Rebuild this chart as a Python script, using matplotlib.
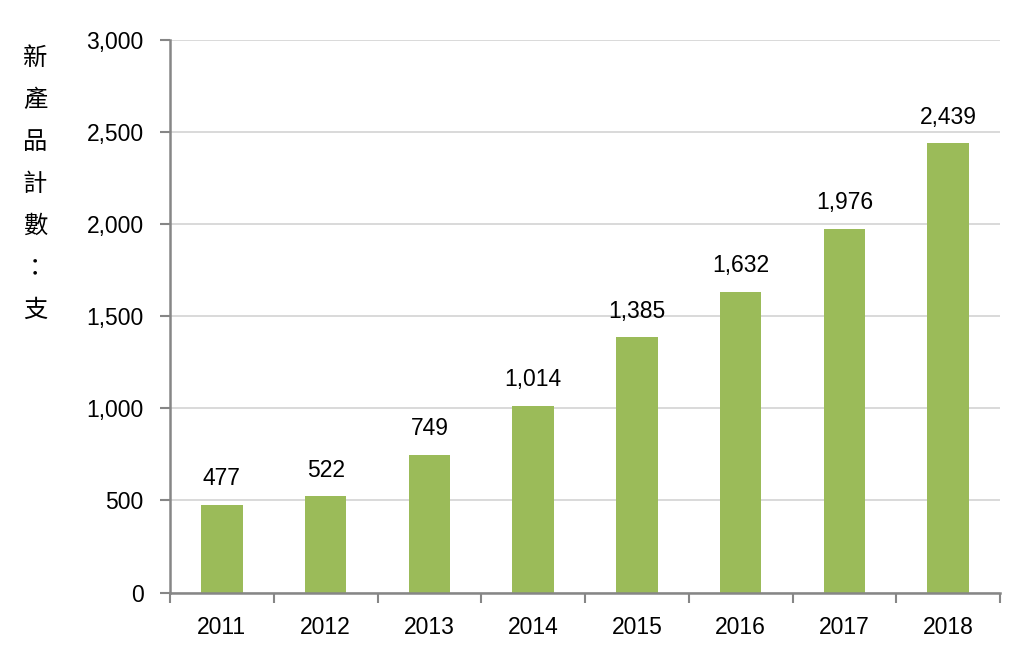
import matplotlib.pyplot as plt
from matplotlib.ticker import FuncFormatter, FixedLocator

plt.rcParams['font.family'] = ['Liberation Sans', 'DejaVu Sans']

years = ['2011', '2012', '2013', '2014', '2015', '2016', '2017', '2018']
counts = [477, 522, 749, 1014, 1385, 1632, 1976, 2439]
ylabel_chars = ['新', '產', '品', '計', '數', '：', '支']

bar_color = '#9BBB59'
axis_color = '#868686'
grid_color = '#D9D9D9'

fig = plt.figure(figsize=(10.18, 6.5), dpi=100)
ax = fig.add_axes([170/1018, 1 - 592.5/650, 830/1018, 552.5/650])

x = list(range(len(years)))
ax.bar(x, counts, width=0.4, color=bar_color, zorder=3)

for xi, v in zip(x, counts):
    ax.annotate(f'{v:,}', (xi, v), xytext=(0, 14), textcoords='offset points',
                ha='center', va='baseline', fontsize=16.5)

ax.set_xlim(-0.5, len(years) - 0.5)
ax.set_ylim(0, 3000)
ax.set_yticks(range(0, 3001, 500))
ax.yaxis.set_major_formatter(FuncFormatter(lambda v, p: f'{int(v):,}'))
ax.set_xticks(x)
ax.set_xticklabels(years)
ax.xaxis.set_minor_locator(FixedLocator([i - 0.5 for i in range(len(years) + 1)]))

ax.tick_params(axis='x', which='major', length=0, pad=17, labelsize=16.5)
ax.tick_params(axis='x', which='minor', length=7, width=1.5, color=axis_color, direction='out')
ax.tick_params(axis='y', length=7, width=1.5, color=axis_color, pad=12, labelsize=16.5)

ax.grid(axis='y', color=grid_color, linewidth=1.4, zorder=0)
for s in ['top', 'right']:
    ax.spines[s].set_visible(False)
for s in ['left', 'bottom']:
    ax.spines[s].set_color(axis_color)
    ax.spines[s].set_linewidth(1.8)
    ax.spines[s].set_zorder(4)

# vertical label, one char per row
for i, ch in enumerate(ylabel_chars):
    fig.text(35/1018, 1 - (58 + i * 42)/650, ch, ha='center', va='center',
             fontsize=17.5, family=['Noto Sans CJK TC', 'DejaVu Sans'])

fig.savefig('out.png', dpi=100)
